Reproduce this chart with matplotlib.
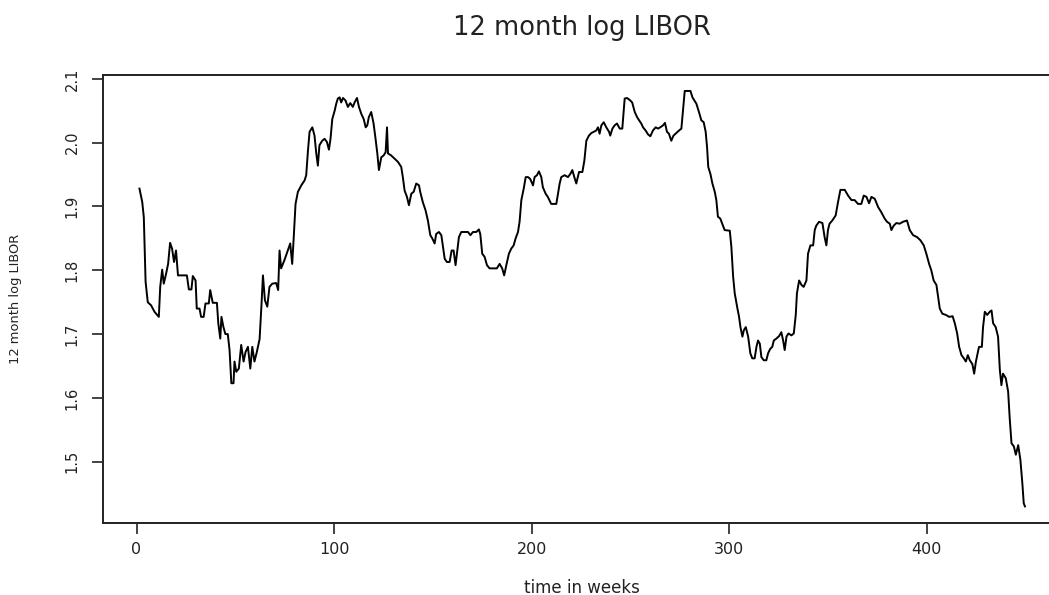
import matplotlib
matplotlib.use('Agg')

import matplotlib.pyplot as plt

# values (week, 12 month log LIBOR)
weeks = [1.5, 2.9, 3.7, 4.6, 5.7, 7.4, 9.1, 11.3, 12, 13, 13.8, 15, 16, 17, 18, 19, 20, 21, 22.6, 25.5,
         26.5, 27.8, 28.5, 29.9, 30.5, 31.9, 32.7, 34, 34.9, 36.6, 37.3, 38.6, 40.7, 41.4, 42.4, 43, 44, 45, 46.2, 47.1,
         48, 49.1, 49.6, 50.5, 51.8, 53, 54.2, 55.2, 56.4, 57.6, 58.6, 59.7, 60.9, 62.3, 63.3, 64, 65, 66.2, 67.3, 68.7,
         70.7, 71.7, 72.4, 73.2, 74.9, 76.6, 77.8, 78.8, 79.5, 80.5, 81.7, 83.4, 85.1, 85.9, 86.8, 87.6, 89, 90.1, 91, 91.8,
         92.6, 94, 95.2, 96.4, 97.4, 98.2, 99.1, 100.3, 101.1, 101.9, 102.8, 103.6, 104.5, 105.8, 107, 108.2, 109.5, 110.4, 111.6, 112.6,
         113.8, 115, 116, 116.8, 117.6, 118.8, 120, 121, 121.9, 122.7, 123.9, 125.1, 126.1, 126.8, 127.3, 128.9, 130.6, 132.3, 134, 134.9,
         135.7, 136.9, 137.9, 139.1, 140.3, 141.6, 143, 143.6, 144.9, 146.3, 147.5, 148.7, 149.7, 150.9, 151.7, 153.1, 154.3, 155.1, 156, 157.1,
         158.5, 159.5, 160.5, 161.5, 162.2, 163.2, 164.4, 166.1, 167.8, 169, 170.3, 172, 173.3, 174, 175, 176.2, 177.4, 178.7, 180.4, 182.4,
         183.8, 185.1, 186.1, 187.2, 188.5, 189.7, 190.9, 191.9, 193.1, 193.9, 194.8, 196, 197, 198.2, 199.3, 200.7, 201.5, 202.7, 203.7, 204.9,
         205.7, 207.1, 208.2, 209.9, 212.5, 214.2, 215, 216.7, 218.4, 219.6, 220.6, 221.8, 222.6, 224, 225.7, 226.7, 227.7, 229, 230.2, 231.4,
         232.7, 233.6, 234.4, 235.3, 236.5, 237.8, 239.2, 239.8, 240.9, 242, 243.2, 244.6, 245.9, 247.1, 248.3, 249.6, 250.9, 252.2, 253.4, 254.4,
         255.5, 256.4, 257.7, 258.9, 260.1, 261.4, 262.8, 264, 265.1, 266.5, 267.5, 268.5, 269.5, 270.7, 271.8, 273.2, 274.6, 275.8, 276.6, 277.5,
         279.2, 280.4, 281.4, 283.4, 284.7, 285.9, 287.1, 288.1, 288.8, 289.4, 290.5, 291.5, 292.7, 293.5, 294.3, 295.5, 296.5, 297.7, 300.3, 301.1,
         302, 302.8, 304, 305, 305.7, 306.7, 307.4, 308.4, 309.6, 310.7, 311.7, 312.9, 313.8, 314.6, 315.5, 316.3, 317.5, 318.8, 319.7, 320.8,
         321.8, 322.6, 323.9, 325.3, 326.4, 327.3, 328.1, 329, 330, 331.5, 332.7, 333.7, 334.3, 335.4, 336.6, 337.7, 339.1, 339.9, 341.1, 342.5,
         343.3, 344.1, 345.5, 347.2, 348.3, 349.2, 350, 350.8, 352.2, 353.9, 355.1, 356.3, 358.5, 360.2, 361.9, 363.5, 365.2, 366.9, 368.1, 369.5,
         370.8, 372, 373.7, 375.4, 377, 378.7, 379.9, 381.3, 382.1, 383.3, 384.6, 386.3, 388, 390, 391.4, 393.1, 395.1, 396.8, 398.5, 399.8,
         401.2, 402.3, 403.5, 404.9, 405.7, 406.6, 407.9, 409.7, 411.4, 413.1, 414.2, 415.4, 416.4, 417.6, 418.8, 419.8, 420.8, 421.8, 423.1, 424,
         424.9, 426.1, 426.5, 427.9, 428.5, 429.4, 430.6, 431.9, 432.8, 433.6, 434.9, 436.1, 437, 437.8, 438.6, 440, 441.2, 442, 442.9, 444.1,
         445.1, 446.3, 447.4, 448.4, 449.1, 449.7]

log_libor = [1.928, 1.907, 1.883, 1.782, 1.750, 1.745, 1.735, 1.727, 1.774, 1.801, 1.779, 1.795, 1.810, 1.843, 1.834, 1.813, 1.831, 1.792, 1.792, 1.792,
             1.770, 1.770, 1.791, 1.784, 1.740, 1.740, 1.727, 1.727, 1.748, 1.748, 1.769, 1.749, 1.749, 1.717, 1.693, 1.727, 1.711, 1.700, 1.700, 1.675,
             1.623, 1.623, 1.657, 1.641, 1.646, 1.683, 1.657, 1.672, 1.680, 1.646, 1.680, 1.657, 1.672, 1.692, 1.748, 1.792, 1.753, 1.743, 1.774, 1.779,
             1.780, 1.769, 1.831, 1.803, 1.816, 1.831, 1.842, 1.810, 1.847, 1.904, 1.923, 1.933, 1.941, 1.949, 1.988, 2.017, 2.024, 2.011, 1.983, 1.964,
             1.996, 2.003, 2.006, 2.001, 1.989, 2.006, 2.037, 2.050, 2.061, 2.069, 2.071, 2.063, 2.070, 2.066, 2.056, 2.062, 2.056, 2.063, 2.070, 2.056,
             2.045, 2.037, 2.024, 2.027, 2.040, 2.048, 2.030, 2.006, 1.983, 1.957, 1.977, 1.980, 1.985, 2.024, 1.983, 1.980, 1.975, 1.970, 1.962, 1.944,
             1.925, 1.915, 1.902, 1.920, 1.923, 1.936, 1.933, 1.923, 1.907, 1.894, 1.878, 1.855, 1.850, 1.842, 1.857, 1.860, 1.855, 1.837, 1.818, 1.813,
             1.813, 1.831, 1.831, 1.808, 1.826, 1.852, 1.860, 1.860, 1.860, 1.855, 1.860, 1.860, 1.864, 1.857, 1.826, 1.821, 1.808, 1.803, 1.803, 1.803,
             1.810, 1.803, 1.792, 1.808, 1.826, 1.834, 1.839, 1.850, 1.860, 1.876, 1.910, 1.928, 1.946, 1.946, 1.943, 1.933, 1.946, 1.949, 1.955, 1.946,
             1.930, 1.920, 1.915, 1.904, 1.904, 1.936, 1.946, 1.949, 1.946, 1.951, 1.957, 1.944, 1.936, 1.954, 1.954, 1.972, 2.003, 2.011, 2.015, 2.017,
             2.019, 2.024, 2.014, 2.027, 2.032, 2.024, 2.017, 2.011, 2.022, 2.027, 2.030, 2.022, 2.022, 2.069, 2.070, 2.067, 2.063, 2.048, 2.040, 2.035,
             2.030, 2.024, 2.019, 2.013, 2.010, 2.019, 2.024, 2.022, 2.024, 2.027, 2.031, 2.017, 2.014, 2.003, 2.011, 2.015, 2.019, 2.022, 2.050, 2.081,
             2.081, 2.081, 2.071, 2.061, 2.048, 2.035, 2.032, 2.017, 1.993, 1.962, 1.951, 1.936, 1.923, 1.910, 1.884, 1.881, 1.873, 1.863, 1.862, 1.837,
             1.790, 1.764, 1.743, 1.727, 1.711, 1.696, 1.706, 1.711, 1.696, 1.670, 1.662, 1.662, 1.680, 1.690, 1.685, 1.664, 1.659, 1.659, 1.670, 1.677,
             1.680, 1.690, 1.693, 1.697, 1.703, 1.690, 1.675, 1.696, 1.701, 1.698, 1.701, 1.730, 1.764, 1.784, 1.777, 1.774, 1.784, 1.826, 1.839, 1.839,
             1.863, 1.870, 1.876, 1.874, 1.852, 1.839, 1.863, 1.873, 1.878, 1.886, 1.907, 1.926, 1.926, 1.917, 1.910, 1.910, 1.904, 1.904, 1.917, 1.915,
             1.905, 1.915, 1.912, 1.899, 1.891, 1.881, 1.876, 1.873, 1.863, 1.870, 1.874, 1.873, 1.876, 1.878, 1.863, 1.855, 1.852, 1.847, 1.839, 1.826,
             1.810, 1.800, 1.784, 1.777, 1.759, 1.740, 1.732, 1.730, 1.727, 1.728, 1.717, 1.701, 1.680, 1.667, 1.662, 1.657, 1.667, 1.659, 1.653, 1.638,
             1.657, 1.675, 1.680, 1.680, 1.711, 1.735, 1.730, 1.735, 1.737, 1.717, 1.711, 1.696, 1.644, 1.620, 1.638, 1.631, 1.610, 1.568, 1.529, 1.524,
             1.511, 1.526, 1.503, 1.466, 1.435, 1.430]

x_ticks = [0, 100, 200, 300, 400]
y_ticks = [1.5, 1.6, 1.7, 1.8, 1.9, 2.0, 2.1]

fig = plt.figure(figsize=(10.49, 5.95), dpi=100)
# the reference is cropped on the right, so the axes run past the figure edge
ax = fig.add_axes([103 / 1049, 1 - 523 / 595, 958 / 1049, 448 / 595])

ax.plot(weeks, log_libor, color='black', linewidth=1.4)

ax.set_xlim(-16.96, 467.96)
ax.set_ylim(1.404, 2.106)
ax.set_xticks(x_ticks)
ax.set_yticks(y_ticks)
ax.set_xticklabels([str(t) for t in x_ticks])
ax.set_yticklabels(['%.1f' % t for t in y_ticks])

for side in ax.spines.values():
    side.set_linewidth(1.4)
    side.set_color('#222222')

ax.tick_params(axis='both', length=8, width=1.2, color='#222222')
ax.tick_params(axis='x', labelsize=11.5, pad=6, labelcolor='#222222')
ax.tick_params(axis='y', labelsize=10.5, pad=9, labelrotation=90, labelcolor='#222222')
for lab in ax.get_yticklabels():
    lab.set_verticalalignment('center')

ax.set_title('12 month log LIBOR', fontsize=18.5, pad=29, color='#222222')
fig.text(582 / 1049, 1 - 593 / 595, 'time in weeks', fontsize=12, ha='center', va='baseline', color='#222222')
fig.text(16 / 1049, 1 - 299 / 595, '12 month log LIBOR', fontsize=9.4, rotation=90,
         ha='center', va='center', color='#222222')

plt.savefig('out.png', dpi=100)
